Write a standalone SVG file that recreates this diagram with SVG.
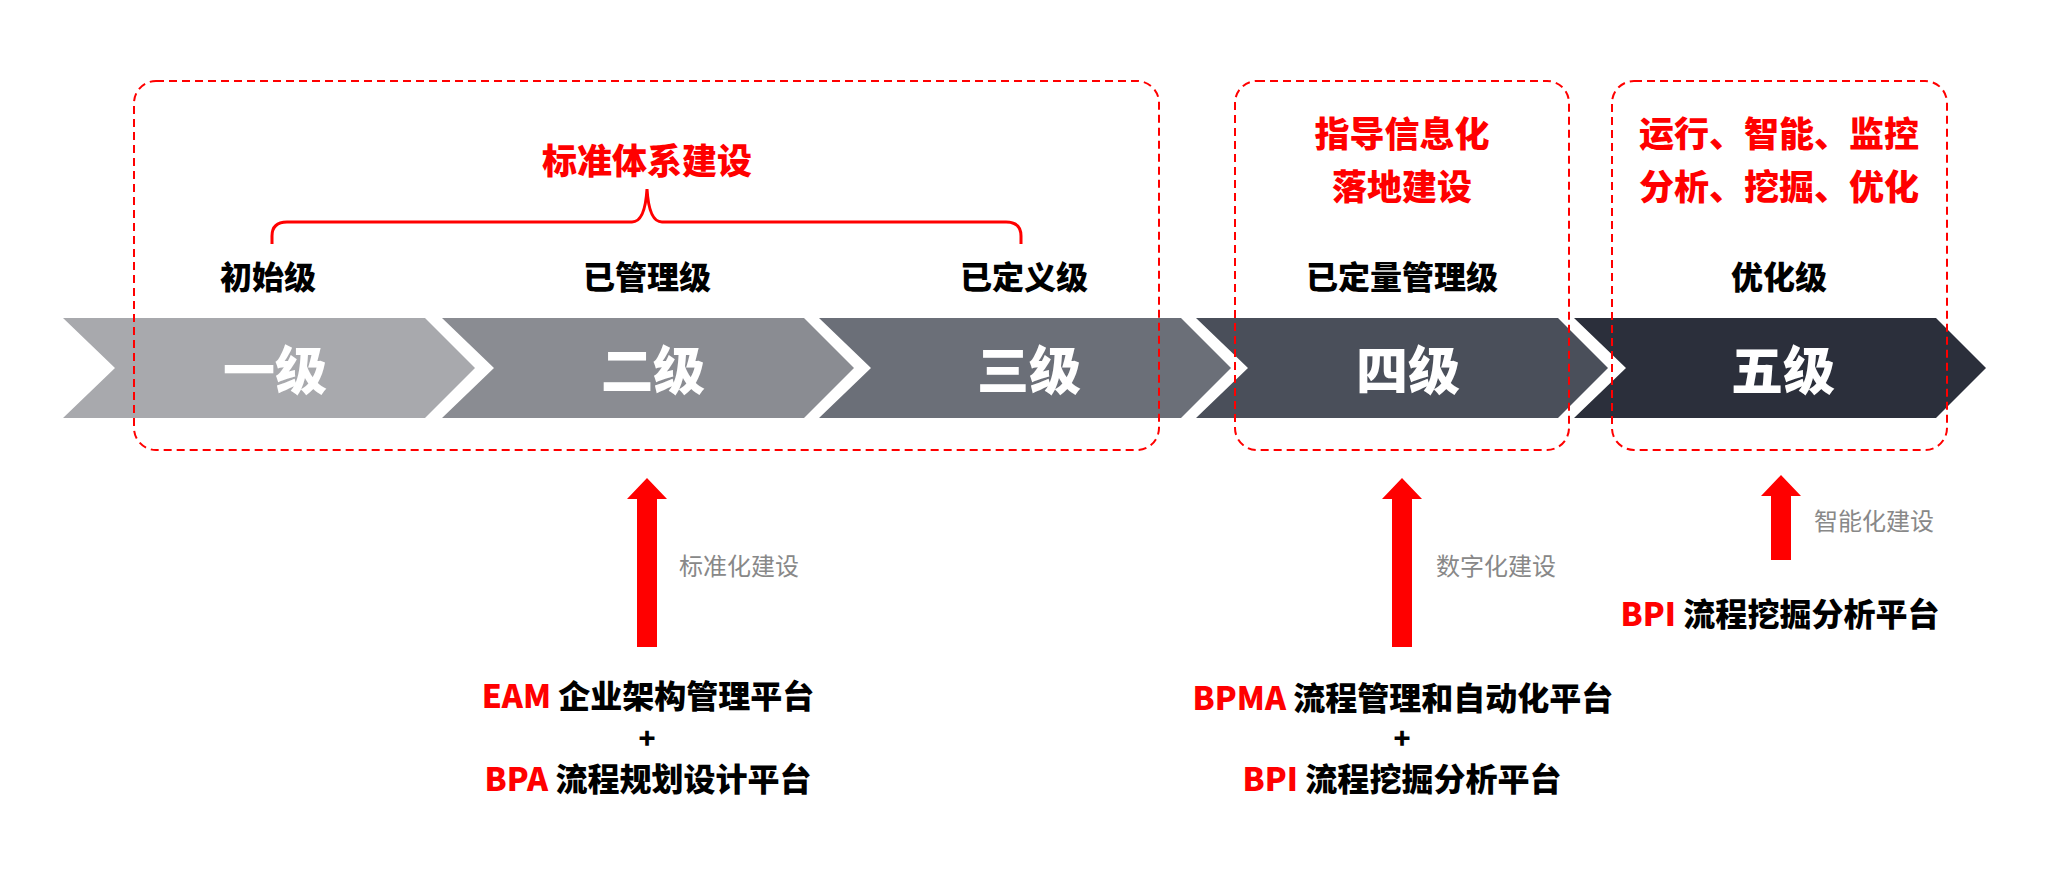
<svg xmlns="http://www.w3.org/2000/svg" width="2048" height="870" viewBox="0 0 2048 870">
<defs>
<style>
text{font-family:"Noto Sans CJK SC","Liberation Sans",sans-serif;font-weight:900;text-anchor:middle;dominant-baseline:central}
.lvl{fill:#fff;font-size:52px}
.top{fill:#000;font-size:32px}
.red{fill:#f00;font-size:35px}
.gray{fill:#888;font-size:24px;font-weight:normal;text-anchor:start}
.plat{fill:#000;font-size:32px}
.plus{fill:#000;font-size:28px}
.box{fill:none;stroke:#f00;stroke-width:2;stroke-dasharray:8 5}
.arr{fill:#f00}
</style>
<polygon id="chev" points="0,318 362,318 412,368 362,418 0,418 52,368"/>
</defs>
<g id="chevrons">
<g id="level1"><use href="#chev" x="63" fill="#a8a9ad"/><text class="lvl" x="275" y="367">一级</text></g>
<g id="level2"><use href="#chev" x="442" fill="#8a8c92"/><text class="lvl" x="653" y="367">二级</text></g>
<g id="level3"><use href="#chev" x="819" fill="#6b6f78"/><text class="lvl" x="1029" y="367">三级</text></g>
<g id="level4"><use href="#chev" x="1196" fill="#4a4f5a"/><text class="lvl" x="1408" y="367">四级</text></g>
<g id="level5"><use href="#chev" x="1574" fill="#2b2f3b"/><text class="lvl" x="1783" y="367">五级</text></g>
</g>
<g id="labels">
<text class="top" x="268" y="275">初始级</text>
<text class="top" x="647" y="275">已管理级</text>
<text class="top" x="1024" y="275">已定义级</text>
<text class="top" x="1402" y="275">已定量管理级</text>
<text class="top" x="1779" y="275">优化级</text>
</g>
<g id="boxes">
<rect class="box" x="134" y="81" width="1025" height="369" rx="22"/>
<rect class="box" x="1235" y="81" width="334" height="369" rx="22"/>
<rect class="box" x="1612" y="81" width="335" height="369" rx="22"/>
</g>
<g id="brace">
<path d="M272,244 V236 Q272,222 287,222 H632 Q645,222 647,189 Q649,222 662,222 H1006 Q1021,222 1021,236 V244" fill="none" stroke="#f00" stroke-width="3"/>
<text class="red" x="647" y="158">标准体系建设</text>
</g>
<g id="goals">
<text class="red" x="1402" y="131">指导信息化</text>
<text class="red" x="1402" y="184">落地建设</text>
<text class="red" x="1779" y="131">运行、智能、监控</text>
<text class="red" x="1779" y="184">分析、挖掘、优化</text>
</g>
<g id="connectors">
<polygon class="arr" points="647,478 667,499 657,499 657,647 637,647 637,499 627,499"/>
<polygon class="arr" points="1402,478 1422,499 1412,499 1412,647 1392,647 1392,499 1382,499"/>
<polygon class="arr" points="1781,475 1801,496 1791,496 1791,560 1771,560 1771,496 1761,496"/>
</g>
<g id="arrowLabels">
<text class="gray" x="679" y="564">标准化建设</text>
<text class="gray" x="1436" y="564">数字化建设</text>
<text class="gray" x="1814" y="519">智能化建设</text>
</g>
<g id="platforms">
<text class="plat" x="648" y="694"><tspan fill="#f00">EAM</tspan> 企业架构管理平台</text>
<text class="plus" x="647" y="737">+</text>
<text class="plat" x="648" y="777"><tspan fill="#f00">BPA</tspan> 流程规划设计平台</text>
<text class="plat" x="1403" y="696"><tspan fill="#f00">BPMA</tspan> 流程管理和自动化平台</text>
<text class="plus" x="1402" y="737">+</text>
<text class="plat" x="1402" y="777"><tspan fill="#f00">BPI</tspan> 流程挖掘分析平台</text>
<text class="plat" x="1780" y="612"><tspan fill="#f00">BPI</tspan> 流程挖掘分析平台</text>
</g>
</svg>
